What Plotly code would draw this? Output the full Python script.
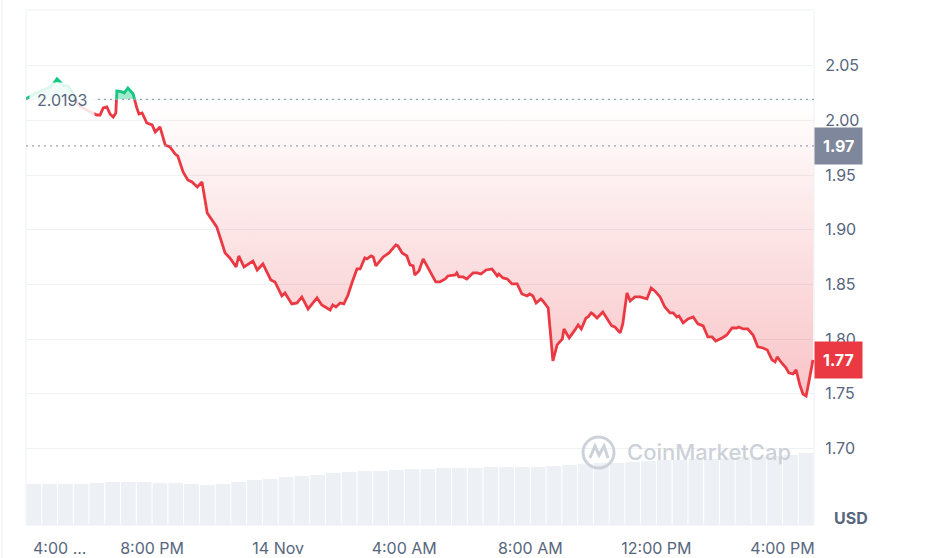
import plotly.graph_objects as go
from datetime import datetime, timedelta

# ---------------- data ----------------
start_time = datetime(2024, 11, 13, 16, 0)
end_time = datetime(2024, 11, 14, 17, 0)

# minutes after 13 Nov 4:00 PM
minutes = [0, 10, 19, 29, 38, 46, 53, 59, 65, 72, 80, 88, 95, 103, 112, 122, 129, 135, 141, 147,
           154, 160, 166, 171, 173, 183, 187, 194, 204, 211, 215, 221, 230, 240, 246, 255, 265, 274, 284, 289,
           299, 308, 316, 326, 335, 345, 354, 363, 379, 388, 400, 405, 415, 432, 440, 451, 466, 474, 487, 493,
           506, 516, 525, 537, 554, 563, 579, 584, 590, 598, 605, 613, 621, 630, 636, 645, 649, 657, 661, 666,
           680, 691, 704, 708, 716, 725, 731, 737, 740, 748, 756, 763, 773, 780, 788, 798, 803, 817, 820, 824,
           832, 839, 851, 859, 866, 876, 887, 897, 900, 908, 916, 925, 935, 944, 954, 959, 965, 971, 980, 984,
           994, 1003, 1011, 1021, 1024, 1034, 1045, 1051, 1057, 1066, 1070, 1076, 1079, 1087, 1098, 1106, 1115, 1121, 1131, 1136,
           1142, 1144, 1150, 1159, 1169, 1182, 1190, 1197, 1207, 1216, 1226, 1232, 1239, 1243, 1251, 1260, 1270, 1279, 1289, 1298,
           1306, 1313, 1325, 1334, 1344, 1353, 1357, 1365, 1374, 1384, 1393, 1403, 1411, 1420, 1426, 1430, 1437, 1447, 1452, 1460,
           1466, 1473, 1479, 1485, 1491, 1498]

price = [2.0197, 2.0224, 2.0252, 2.0270, 2.0288, 2.0307, 2.0343, 2.0380, 2.0352, 2.0316, 2.0316, 2.0261, 2.0188, 2.0133, 2.0105, 2.0078, 2.0059, 2.0050, 2.0050, 2.0114,
         2.0124, 2.0059, 2.0032, 2.0069, 2.0270, 2.0261, 2.0252, 2.0297, 2.0242, 2.0114, 2.0059, 2.0069, 1.9977, 1.9959, 1.9895, 1.9941, 1.9776, 1.9758, 1.9693, 1.9675,
         1.9529, 1.9456, 1.9437, 1.9392, 1.9437, 1.9154, 1.9090, 1.9026, 1.8788, 1.8742, 1.8660, 1.8760, 1.8660, 1.8714, 1.8632, 1.8687, 1.8541, 1.8522, 1.8394, 1.8422,
         1.8321, 1.8330, 1.8385, 1.8275, 1.8376, 1.8312, 1.8266, 1.8312, 1.8293, 1.8330, 1.8321, 1.8403, 1.8522, 1.8641, 1.8641, 1.8742, 1.8733, 1.8760, 1.8751, 1.8669,
         1.8751, 1.8788, 1.8861, 1.8852, 1.8788, 1.8760, 1.8678, 1.8669, 1.8586, 1.8623, 1.8733, 1.8669, 1.8586, 1.8522, 1.8522, 1.8550, 1.8577, 1.8586, 1.8605, 1.8568,
         1.8568, 1.8550, 1.8605, 1.8605, 1.8595, 1.8632, 1.8641, 1.8577, 1.8595, 1.8559, 1.8550, 1.8504, 1.8504, 1.8412, 1.8394, 1.8412, 1.8394, 1.8330, 1.8367, 1.8348,
         1.8284, 1.7799, 1.7946, 1.8001, 1.8092, 1.8010, 1.8083, 1.8129, 1.8092, 1.8193, 1.8202, 1.8239, 1.8230, 1.8193, 1.8248, 1.8193, 1.8120, 1.8110, 1.8056, 1.8138,
         1.8358, 1.8422, 1.8348, 1.8385, 1.8385, 1.8367, 1.8467, 1.8440, 1.8385, 1.8293, 1.8239, 1.8239, 1.8202, 1.8211, 1.8147, 1.8184, 1.8202, 1.8138, 1.8120, 1.8019,
         1.8019, 1.7982, 1.8010, 1.8037, 1.8101, 1.8101, 1.8110, 1.8092, 1.8092, 1.8037, 1.7928, 1.7918, 1.7900, 1.7809, 1.7790, 1.7836, 1.7790, 1.7735, 1.7690, 1.7680,
         1.7717, 1.7580, 1.7497, 1.7479, 1.7626, 1.7809]

# 30-minute volume buckets (millions USD), bucket centres in minutes after start
volume_minutes = [15 + 30 * i for i in range(50)]
volume = [15.9, 15.9, 15.9, 15.9, 16.3, 16.7, 16.7, 16.7, 16.3, 16.3,
          15.9, 15.5, 15.9, 16.7, 17.5, 17.9, 18.6, 19.0, 19.4, 20.2,
          20.6, 21.0, 21.0, 21.4, 21.7, 21.7, 22.1, 22.1, 22.1, 22.5,
          22.5, 22.5, 22.5, 22.9, 23.3, 23.7, 24.1, 24.1, 24.5, 24.9,
          25.2, 25.2, 25.6, 25.6, 26.0, 26.4, 26.4, 26.8, 27.2, 28.0]

open_price = 2.0193
open_label = "2.0193"
ref_price = 1.9767
ref_label = "1.97"
last_label = "1.77"

y_tick_values = [1.70, 1.75, 1.80, 1.85, 1.90, 1.95, 2.00, 2.05]
x_tick_times = ["2024-11-13 20:00", "2024-11-14 00:00", "2024-11-14 04:00",
                "2024-11-14 08:00", "2024-11-14 12:00", "2024-11-14 16:00"]
x_tick_labels = ["8:00 PM", "14 Nov", "4:00 AM", "8:00 AM", "12:00 PM", "4:00 PM"]
first_tick_label = "4:00 ..."

# ---------------- styling ----------------
RED = "#ea3943"
GREEN = "#16c784"
TXT = "#58667e"
GRID = "#eff2f5"
FONT = "Inter, Noto Sans, sans-serif"

Y_MIN, Y_MAX = 1.6298, 2.1011
VOL_MAX = 200
split = (open_price - Y_MIN) / (Y_MAX - Y_MIN)

times = [start_time + timedelta(minutes=m) for m in minutes]
vol_times = [start_time + timedelta(minutes=m) for m in volume_minutes]

fig = go.Figure()

# volume bars
fig.add_trace(go.Bar(x=vol_times, y=volume, yaxis="y4",
                     marker=dict(color="#edf0f4", line=dict(width=0)),
                     hoverinfo="skip", showlegend=False))

# red (below open) part, clipped to lower sub-domain
fig.add_trace(go.Scatter(x=[start_time, end_time], y=[open_price, open_price], yaxis="y3",
                         mode="lines", line=dict(width=0), hoverinfo="skip", showlegend=False))
fig.add_trace(go.Scatter(x=times, y=price, yaxis="y3", mode="lines",
                         line=dict(color=RED, width=2.8), fill="tonexty",
                         fillgradient=dict(type="vertical",
                                           colorscale=[[0, "rgba(234,57,67,0.30)"], [1, "rgba(234,57,67,0.0)"]],
                                           start=1.745, stop=open_price),
                         hoverinfo="skip", showlegend=False))

# green (above open) part, clipped to upper sub-domain
fig.add_trace(go.Scatter(x=[start_time, end_time], y=[open_price, open_price], yaxis="y2",
                         mode="lines", line=dict(width=0), hoverinfo="skip", showlegend=False))
fig.add_trace(go.Scatter(x=times, y=price, yaxis="y2", mode="lines",
                         line=dict(color=GREEN, width=2.8), fill="tonexty",
                         fillcolor="rgba(22,199,132,0.4)",
                         hoverinfo="skip", showlegend=False))

shapes = [
    # frame
    dict(type="rect", xref="paper", yref="paper", x0=0, x1=1, y0=0, y1=1,
         line=dict(color="#edf0f3", width=1), layer="below"),
    dict(type="line", xref="paper", yref="paper", x0=-0.0305, x1=-0.0305, y0=-0.07, y1=1.03,
         line=dict(color="#eef0f3", width=1)),
    # dotted reference lines
    dict(type="line", xref="paper", yref="y", x0=0, x1=1, y0=open_price, y1=open_price,
         line=dict(color="#9aa3b3", width=1.3, dash="2px,4px")),
    dict(type="line", xref="paper", yref="y", x0=0, x1=1, y0=ref_price, y1=ref_price,
         line=dict(color="#9aa3b3", width=1.3, dash="2px,4px")),
    # watermark logo
    dict(type="circle", xref="paper", yref="paper", x0=0.7069, x1=0.7462, y0=0.1107, y1=0.1709,
         line=dict(color="#cdd2da", width=3)),
    dict(type="path", xref="paper", yref="paper",
         path="M 0.7157 0.1301 L 0.7221 0.1534 L 0.7272 0.1359 L 0.7335 0.1534 L 0.7386 0.1301",
         line=dict(color="#cdd2da", width=3)),
]

annotations = [
    dict(x=start_time + timedelta(minutes=68), y=open_price, xref="x", yref="y", text=open_label,
         showarrow=False, xanchor="center", yanchor="middle",
         font=dict(family=FONT, size=16, color=TXT),
         bgcolor="rgba(255,255,255,0.85)", borderpad=7, yshift=-1),
    dict(x=1, y=ref_price, xref="paper", yref="y", text="<b>" + ref_label + "</b>", showarrow=False,
         xanchor="left", yanchor="middle", font=dict(family=FONT, size=16, color="white"),
         bgcolor="#7e879b", borderpad=8),
    dict(x=1, y=price[-1], xref="paper", yref="y", text="<b>" + last_label + "</b>", showarrow=False,
         xanchor="left", yanchor="middle", font=dict(family=FONT, size=16, color="white"),
         bgcolor=RED, borderpad=8),
    dict(x=1, y=0.0136, xref="paper", yref="paper", text="<b>USD</b>", showarrow=False,
         xanchor="left", yanchor="middle", xshift=18, font=dict(family=FONT, size=16, color=TXT)),
    dict(x=start_time, y=0, xref="x", yref="paper", text=first_tick_label, showarrow=False,
         xanchor="left", yanchor="middle", xshift=5, yshift=-23,
         font=dict(family=FONT, size=16, color=TXT)),
    dict(x=0.8668, y=0.1417, xref="paper", yref="paper", text="CoinMarketCap", showarrow=False,
         xanchor="center", yanchor="middle",
         font=dict(family=FONT, size=22, color="#ccd1d9", weight=500)),
]

fig.update_layout(
    width=925, height=558,
    margin=dict(l=26, r=111, t=10, b=33, autoexpand=False),
    paper_bgcolor="white", plot_bgcolor="rgba(0,0,0,0)",
    showlegend=False, hovermode=False, bargap=0.07,
    font=dict(family=FONT, color=TXT, size=16),
    xaxis=dict(range=[start_time, end_time], type="date", anchor="y", automargin=False,
               tickvals=x_tick_times, ticktext=x_tick_labels,
               showgrid=False, zeroline=False, showline=False,
               ticks="outside", ticklen=9, tickcolor="rgba(0,0,0,0)",
               tickfont=dict(family=FONT, size=16, color=TXT)),
    yaxis=dict(range=[Y_MIN, Y_MAX], side="right", anchor="x", domain=[0, 1], automargin=False,
               tickvals=y_tick_values, ticktext=[f"{v:.2f}" for v in y_tick_values],
               showgrid=True, gridcolor=GRID, gridwidth=1, zeroline=False, showline=False,
               ticks="outside", ticklen=7, tickcolor="rgba(0,0,0,0)",
               tickfont=dict(family=FONT, size=16, color=TXT)),
    yaxis2=dict(range=[open_price, Y_MAX], domain=[split, 1], anchor="x", visible=False,
                showgrid=False, zeroline=False),
    yaxis3=dict(range=[Y_MIN, open_price], domain=[0, split], anchor="x", visible=False,
                showgrid=False, zeroline=False),
    yaxis4=dict(range=[0, VOL_MAX], domain=[0, 1], anchor="x", visible=False,
                showgrid=False, zeroline=False),
    shapes=shapes,
    annotations=annotations,
)

fig.write_html("out.html", config={"displayModeBar": False},
               post_script="document.body.style.margin='0';")
